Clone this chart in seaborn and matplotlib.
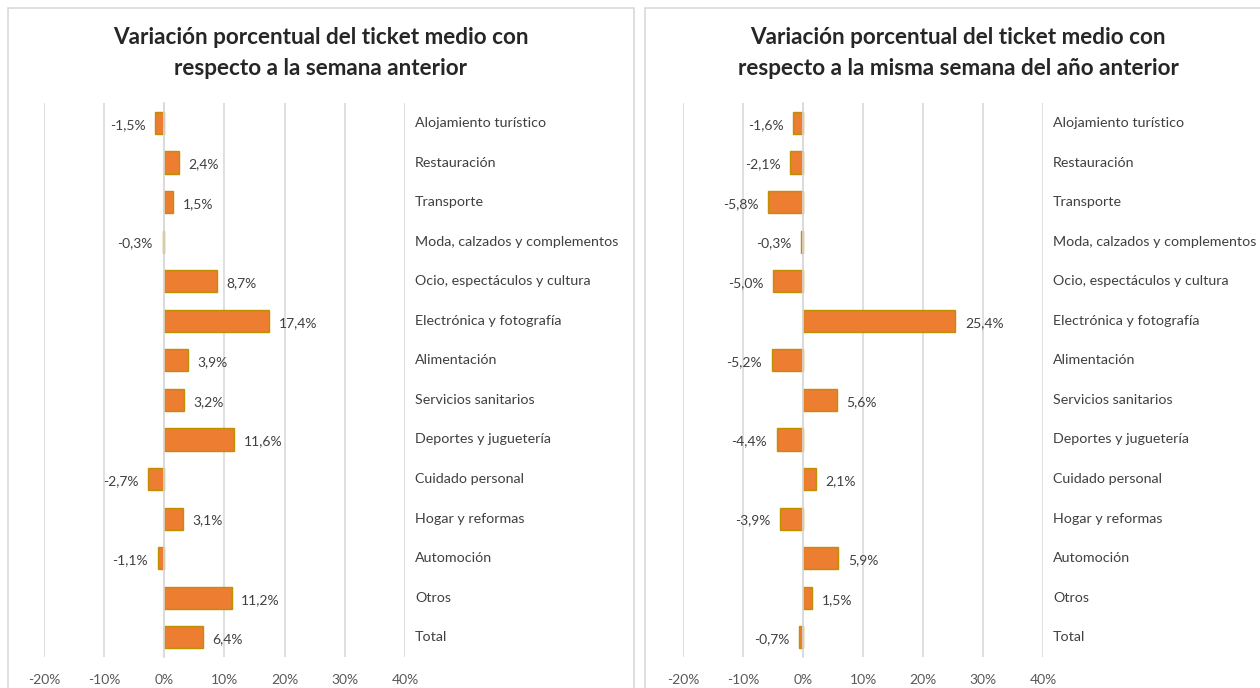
import numpy as np
import pandas as pd
import seaborn as sns
import matplotlib.pyplot as plt
import matplotlib.transforms as mtransforms
from matplotlib.patches import Rectangle

categories = ['Alojamiento turístico', 'Restauración', 'Transporte',
              'Moda, calzados y complementos', 'Ocio, espectáculos y cultura',
              'Electrónica y fotografía', 'Alimentación', 'Servicios sanitarios',
              'Deportes y juguetería', 'Cuidado personal', 'Hogar y reformas',
              'Automoción', 'Otros', 'Total']
semana_anterior = [-1.5, 2.4, 1.5, -0.3, 8.7, 17.4, 3.9, 3.2, 11.6, -2.7, 3.1, -1.1, 11.2, 6.4]
anio_anterior = [-1.6, -2.1, -5.8, -0.3, -5.0, 25.4, -5.2, 5.6, -4.4, 2.1, -3.9, 5.9, 1.5, -0.7]
titles = ['Variación porcentual del ticket medio con\nrespecto a la semana anterior',
          'Variación porcentual del ticket medio con\nrespecto a la misma semana del año anterior']
x_ticks = [-20, -10, 0, 10, 20, 30, 40]

sns.set_style('white')
plt.rcParams['font.family'] = ['Lato', 'DejaVu Sans']

fig = plt.figure(figsize=(12.6, 6.88), dpi=100)

# panel borders (figure pixels)
for x0, x1 in [(8, 634), (645, 1270)]:
    fig.patches.append(Rectangle((x0 / 1260, -0.05), (x1 - x0) / 1260, 1 - 8 / 688 + 0.05,
                                 transform=fig.transFigure, fill=False,
                                 edgecolor='#D9D9D9', linewidth=1.2))

axes_pos = [[44 / 1260, 0.045, 361 / 1260, 0.805],
            [683 / 1260, 0.045, 360 / 1260, 0.805]]
title_x = [321 / 1260, 958 / 1260]

for pos, vals, title, tx in zip(axes_pos, [semana_anterior, anio_anterior], titles, title_x):
    ax = fig.add_axes(pos)
    df = pd.DataFrame({'cat': categories, 'val': vals})
    sns.barplot(data=df, x='val', y='cat', orient='h', color='#ED7D31',
                edgecolor='#BF9000', linewidth=1.0, width=0.56, saturation=1, ax=ax)
    ax.set_xlim(-20, 40)
    ax.set_ylim(len(categories) - 0.5, -0.5)
    ax.set_xticks(x_ticks)
    ax.set_xticklabels([f'{t}%' for t in x_ticks])
    ax.tick_params(axis='x', length=0, pad=12, labelsize=10, labelcolor='#595959')
    ax.grid(axis='x', color='#D9D9D9', linewidth=1.2)
    ax.set_axisbelow(True)
    ax.set_xlabel('')
    ax.set_ylabel('')
    for s in ['top', 'right', 'bottom']:
        ax.spines[s].set_visible(False)
    ax.spines['left'].set_position(('data', 0))
    ax.spines['left'].set_color('#D9D9D9')
    ax.spines['left'].set_linewidth(1.2)
    ax.set_yticks(np.arange(len(categories) + 1) - 0.5)
    ax.set_yticklabels([])
    ax.tick_params(axis='y', length=4, color='#D9D9D9', width=1.2)

    trans = mtransforms.blended_transform_factory(ax.transAxes, ax.transData)
    for i, c in enumerate(categories):
        ax.text(1.028, i, c, transform=trans, ha='left', va='center',
                fontsize=10.3, color='#404040')
    for i, v in enumerate(vals):
        lab = f'{v:.1f}%'.replace('.', ',')
        if v >= 0:
            ax.text(v + 1.6, i + 0.05, lab, ha='left', va='center', fontsize=10, color='#404040')
        else:
            ax.text(v - 1.6, i + 0.05, lab, ha='right', va='center', fontsize=10, color='#404040')

    fig.text(tx, 1 - 53 / 688, title, ha='center', va='center', fontsize=16.2,
             fontweight='bold', color='#262626', linespacing=1.55)

fig.savefig('out.png', dpi=100)
